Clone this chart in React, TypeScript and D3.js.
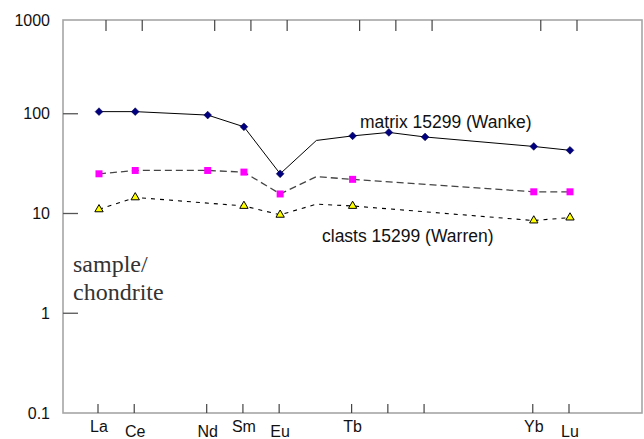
import React, { useEffect, useRef } from 'react'
import * as d3 from 'd3'

const elements = ['La', 'Ce', 'Pr', 'Nd', 'Sm', 'Eu', 'Gd', 'Tb', 'Dy', 'Ho', 'Er', 'Tm', 'Yb', 'Lu']
const tickElements = ['La', 'Ce', 'Nd', 'Sm', 'Eu', 'Tb', 'Dy', 'Ho', 'Yb', 'Lu']
const labelElements = ['La', 'Ce', 'Nd', 'Sm', 'Eu', 'Tb', 'Yb', 'Lu']
const lowLabels = ['Ce', 'Nd', 'Eu', 'Lu']
const unmarked = ['Gd']
const yTicks = [0.1, 1, 10, 100, 1000]

// matrix 15299 (Wanke)
const matrixValues = [105, 105, null, 97, 74, 25, 54, 60, 65, 58.5, null, null, 47, 43]
// clasts 15299 (Warren), upper and lower
const clastHighValues = [25, 27, null, 27, 26, 15.7, 23.4, 22, null, null, null, null, 16.5, 16.5]
const clastLowValues = [11, 14.5, null, null, 11.9, 9.7, 12.4, 11.9, null, null, null, null, 8.5, 9.1]

const W = 644
const H = 439
const frame = { left: 63, top: 20, right: 642, bottom: 413 }

export default function App() {
  const ref = useRef<SVGSVGElement>(null)

  useEffect(() => {
    const svg = d3.select(ref.current)
    svg.selectAll('*').remove()

    const x = d3.scalePoint().domain(elements).range([99, 570])
    const y = d3.scaleLog().domain([0.1, 1000]).range([frame.bottom, 14])

    // frame
    svg.append('rect')
      .attr('x', frame.left)
      .attr('y', frame.top)
      .attr('width', frame.right - frame.left)
      .attr('height', frame.bottom - frame.top)
      .attr('fill', 'none')
      .attr('stroke', '#a6a6a6')
      .attr('stroke-width', 1.6)

    // y ticks + labels
    yTicks.forEach(v => {
      let yy = Math.max(y(v), frame.top)
      if (v > 0.1 && v < 1000) {
        svg.append('line')
          .attr('x1', frame.left).attr('x2', frame.left + 15)
          .attr('y1', yy).attr('y2', yy)
          .attr('stroke', '#555').attr('stroke-width', 1.3)
      }
      svg.append('text')
        .attr('x', 50)
        .attr('y', yy + 5.5)
        .attr('text-anchor', 'end')
        .attr('font-family', 'Liberation Sans, Arial, sans-serif')
        .attr('font-size', 16)
        .attr('fill', '#111')
        .text(v)
    })

    // x ticks, bottom and top
    tickElements.forEach(e => {
      let xx = x(e) as number
      svg.append('line')
        .attr('x1', xx - 1).attr('x2', xx - 1)
        .attr('y1', frame.bottom).attr('y2', frame.bottom - 9)
        .attr('stroke', '#444').attr('stroke-width', 1.2)
      svg.append('line')
        .attr('x1', xx + 7).attr('x2', xx + 7)
        .attr('y1', frame.top).attr('y2', frame.top + 11)
        .attr('stroke', '#444').attr('stroke-width', 1.2)
    })

    labelElements.forEach(e => {
      svg.append('text')
        .attr('x', x(e) as number)
        .attr('y', lowLabels.indexOf(e) >= 0 ? 437 : 432)
        .attr('text-anchor', 'middle')
        .attr('font-family', 'Liberation Sans, Arial, sans-serif')
        .attr('font-size', 16)
        .attr('fill', '#111')
        .text(e)
    })

    const series = [
      { values: matrixValues, dash: null, stroke: '#000', width: 1, symbol: 'diamond' },
      { values: clastHighValues, dash: '7,4', stroke: '#444', width: 1.3, symbol: 'square' },
      { values: clastLowValues, dash: '4,5', stroke: '#000', width: 1.1, symbol: 'triangle' },
    ]

    series.forEach(s => {
      let pts = elements
        .map((e, i) => ({ e: e, v: s.values[i] }))
        .filter(d => d.v !== null) as { e: string, v: number }[]

      let line = d3.line<{ e: string, v: number }>()
        .x(d => x(d.e) as number)
        .y(d => y(d.v))

      svg.append('path')
        .attr('d', line(pts))
        .attr('fill', 'none')
        .attr('stroke', s.stroke)
        .attr('stroke-width', s.width)
        .attr('stroke-dasharray', s.dash)

      let marks = svg.append('g')
      pts.filter(d => unmarked.indexOf(d.e) < 0).forEach(d => {
        let xx = x(d.e) as number
        let yy = y(d.v)
        if (s.symbol === 'diamond') {
          marks.append('path')
            .attr('d', d3.symbol(d3.symbolSquare, 30)())
            .attr('transform', 'translate(' + xx + ',' + yy + ') rotate(45)')
            .attr('fill', '#000080')
            .attr('stroke', '#000040')
            .attr('stroke-width', 0.5)
        } else if (s.symbol === 'square') {
          marks.append('path')
            .attr('d', d3.symbol(d3.symbolSquare, 49)())
            .attr('transform', 'translate(' + xx + ',' + yy + ')')
            .attr('fill', '#ff00ff')
        } else {
          marks.append('path')
            .attr('d', d3.symbol(d3.symbolTriangle, 30)())
            .attr('transform', 'translate(' + xx + ',' + yy + ')')
            .attr('fill', '#ffff00')
            .attr('stroke', '#000')
            .attr('stroke-width', 1)
        }
      })
    })

    // annotations
    svg.append('text')
      .attr('x', 360).attr('y', 128)
      .attr('font-family', 'Liberation Sans, Arial, sans-serif')
      .attr('font-size', 17.5)
      .attr('fill', '#111')
      .text('matrix 15299 (Wanke)')
    svg.append('text')
      .attr('x', 322).attr('y', 242)
      .attr('font-family', 'Liberation Sans, Arial, sans-serif')
      .attr('font-size', 17.5)
      .attr('fill', '#111')
      .text('clasts 15299 (Warren)')

    let unit = svg.append('text')
      .attr('font-family', 'Liberation Serif, Times New Roman, serif')
      .attr('font-size', 24)
      .attr('fill', '#333')
    unit.append('tspan').attr('x', 73).attr('y', 272).text('sample/')
    unit.append('tspan').attr('x', 73).attr('y', 300).text('chondrite')
  }, [])

  return (
    <svg ref={ref} width={W} height={H}
      style={{ position: 'absolute', left: 0, top: 0, background: '#fff' }} />
  )
}
